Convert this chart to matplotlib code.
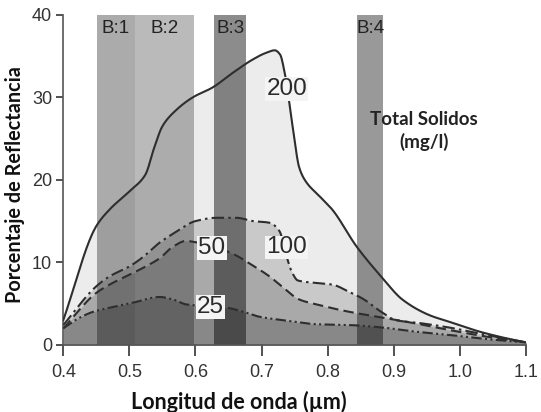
import matplotlib
matplotlib.use("Agg")
import matplotlib.pyplot as plt
import numpy as np

# Reflectance (%) vs wavelength (µm) for water with different total solids (mg/l)
wl_200 = [0.40, 0.45, 0.47, 0.50, 0.524, 0.538, 0.55, 0.57, 0.596, 0.626, 0.657, 0.687,
          0.707, 0.72, 0.728, 0.735, 0.747, 0.757, 0.767, 0.788, 0.807, 0.844, 0.883,
          0.913, 0.954, 0.984, 1.03, 1.07, 1.10]
r_200 = [3.0, 14.4, 16.4, 18.6, 20.6, 24.0, 26.5, 28.4, 30.0, 31.2, 33.0, 34.6,
         35.4, 35.7, 35.2, 33.0, 26.5, 21.5, 19.8, 18.0, 16.4, 11.9, 8.1,
         5.5, 3.6, 2.8, 1.6, 0.8, 0.3]

wl_100 = [0.40, 0.45, 0.47, 0.50, 0.52, 0.546, 0.571, 0.60, 0.632, 0.662, 0.687, 0.712,
          0.727, 0.738, 0.745, 0.755, 0.783, 0.807, 0.833, 0.853, 0.883, 0.903, 0.943,
          0.984, 1.04, 1.10]
r_100 = [2.4, 7.1, 8.3, 9.5, 10.6, 12.4, 13.7, 15.0, 15.4, 15.4, 15.0, 14.8,
         13.8, 10.7, 9.0, 7.8, 7.5, 7.3, 6.4, 5.6, 3.9, 3.0, 2.6,
         2.1, 1.2, 0.3]

wl_50 = [0.40, 0.45, 0.47, 0.50, 0.52, 0.546, 0.566, 0.586, 0.596, 0.652, 0.687, 0.712,
         0.732, 0.757, 0.783, 0.833, 0.883, 0.933, 0.984, 1.04, 1.10]
r_50 = [2.0, 6.3, 7.3, 8.5, 9.3, 10.5, 11.9, 12.6, 12.5, 11.2, 9.6, 8.3,
        7.0, 5.5, 4.9, 4.0, 3.3, 2.6, 1.8, 1.0, 0.3]

wl_25 = [0.40, 0.425, 0.445, 0.47, 0.505, 0.546, 0.566, 0.586, 0.597, 0.647, 0.677,
         0.697, 0.732, 0.783, 0.833, 0.883, 0.933, 0.984, 1.04, 1.10]
r_25 = [2.0, 3.3, 4.0, 4.5, 5.1, 5.8, 5.5, 4.9, 4.8, 4.5, 3.9,
        3.4, 3.0, 2.5, 2.4, 2.1, 1.6, 1.2, 0.7, 0.3]

# Sensor bands (µm)
band_names = ["B:1", "B:2", "B:3", "B:4"]
band_lo = [0.451, 0.508, 0.628, 0.845]
band_hi = [0.508, 0.598, 0.677, 0.884]

x_ticks = [0.4, 0.5, 0.6, 0.7, 0.8, 0.9, 1.0, 1.1]
x_tick_labels = ["0.4", "0.5", "0.6", "0.7", "0.8", "0.9", "1.0", "1.1"]
y_ticks = [0, 10, 20, 30, 40]


def pchip(x, y, xs):
    """Monotone piecewise cubic Hermite interpolation (Fritsch-Carlson)."""
    x = np.asarray(x, float)
    y = np.asarray(y, float)
    h = np.diff(x)
    d = np.diff(y) / h
    m = np.zeros_like(y)
    for k in range(1, len(x) - 1):
        if d[k - 1] * d[k] > 0:
            w1 = 2 * h[k] + h[k - 1]
            w2 = h[k] + 2 * h[k - 1]
            m[k] = (w1 + w2) / (w1 / d[k - 1] + w2 / d[k])
    m[0] = d[0]
    m[-1] = d[-1]
    idx = np.clip(np.searchsorted(x, xs) - 1, 0, len(x) - 2)
    t = (xs - x[idx]) / h[idx]
    h00 = 2 * t**3 - 3 * t**2 + 1
    h10 = t**3 - 2 * t**2 + t
    h01 = -2 * t**3 + 3 * t**2
    h11 = t**3 - t**2
    return (h00 * y[idx] + h10 * h[idx] * m[idx]
            + h01 * y[idx + 1] + h11 * h[idx] * m[idx + 1])


plt.rcParams["font.family"] = ["Liberation Sans", "DejaVu Sans"]

fig = plt.figure(figsize=(5.41, 4.12), dpi=100)
ax = fig.add_axes([0.117, 0.163, 0.855, 0.801])

series = [
    (wl_200, r_200, "#ececec", "-", "200"),
    (wl_100, r_100, "#c9c9c9", (0, (6, 2, 1.2, 2)), "100"),
    (wl_50, r_50, "#a9a9a9", (0, (5, 2.5)), "50"),
    (wl_25, r_25, "#888888", (0, (5, 1.6, 1, 1.6, 1, 1.6)), "25"),
]

xs = np.linspace(0.4, 1.1, 700)
for wl, r, fc, ls, _ in series:
    ys = pchip(wl, r, xs)
    ax.fill_between(xs, 0, ys, color=fc, lw=0, zorder=1)
    ax.plot(xs, ys, color="#2e2e2e", lw=1.5, linestyle=ls, zorder=3)

band_alpha = [0.33, 0.27, 0.45, 0.40]
for lo, hi, a, name in zip(band_lo, band_hi, band_alpha, band_names):
    ax.axvspan(lo, hi, ymin=0, ymax=1, color="black", alpha=a, lw=0, zorder=2)
    ax.text((lo + hi) / 2, 38.4, name, ha="center", va="center",
            fontsize=13.5, color="#222222", zorder=5)

label_pos = {"200": (0.738, 31.0), "100": (0.738, 11.8),
             "50": (0.625, 11.7), "25": (0.623, 4.6)}
for _, _, _, _, name in series:
    x, y = label_pos[name]
    ax.text(x, y, name, ha="center", va="center", fontsize=17.5, color="#2a2a2a",
            zorder=6, bbox=dict(boxstyle="square,pad=0.04", fc="#f4f4f4", ec="none"))

ax.text(0.946, 25.9, "Total Solidos\n(mg/l)", ha="center", va="center",
        fontsize=13.5, fontweight="bold", family=["Lato", "DejaVu Sans"],
        color="#222222", linespacing=1.3, zorder=6)

ax.set_xlim(0.4, 1.1)
ax.set_ylim(0, 40)
ax.set_xticks(x_ticks)
ax.set_xticklabels(x_tick_labels)
ax.set_yticks(y_ticks)
ax.tick_params(axis="both", labelsize=13, colors="#333333", direction="out")
ax.tick_params(axis="x", length=8, width=1.2, pad=6)
ax.tick_params(axis="y", length=5, width=1.2, pad=3)

for side in ["top", "right"]:
    ax.spines[side].set_visible(False)
for side in ["left", "bottom"]:
    ax.spines[side].set_color("#555555")
    ax.spines[side].set_linewidth(1.2)

ax.set_xlabel("Longitud de onda (µm)", fontsize=15.5, fontweight="bold",
              family=["Lato", "DejaVu Sans"], color="#111111")
ax.set_ylabel("Porcentaje de Reflectancia", fontsize=14.3, fontweight="bold",
              family=["Lato", "DejaVu Sans"], color="#111111")
ax.xaxis.set_label_coords(0.38, -0.14)
ax.yaxis.set_label_coords(-0.082, 0.486)

fig.savefig("out.png", dpi=100)
